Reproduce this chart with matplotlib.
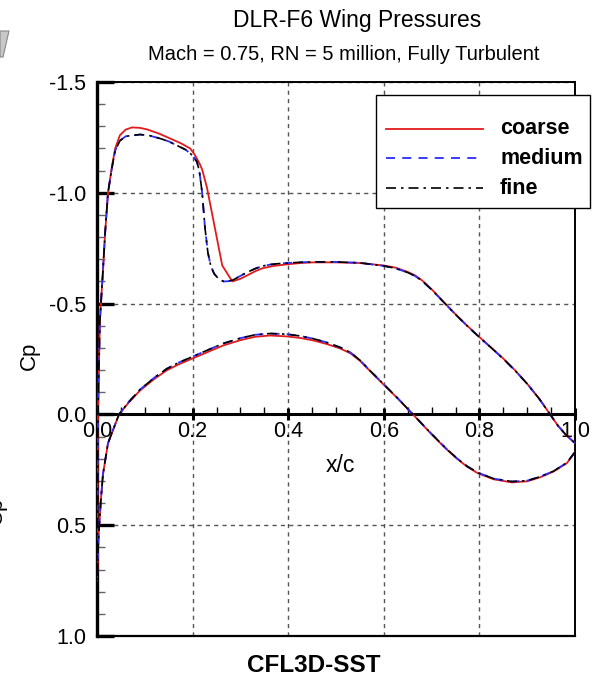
import numpy as np
import matplotlib
matplotlib.use("Agg")
import matplotlib.pyplot as plt
from matplotlib.patches import Polygon, Rectangle
from matplotlib.lines import Line2D

plt.rcParams["font.family"] = ["Liberation Sans", "DejaVu Sans"]

# ----------------------------------------------------------------------------
# Surface pressure data (x/c, Cp)
# ----------------------------------------------------------------------------
coarse_x_up = [0.0, 0.001, 0.002, 0.006, 0.0125, 0.017, 0.023, 0.031, 0.038, 0.048,
               0.06, 0.073, 0.09, 0.105, 0.13, 0.153, 0.175, 0.195, 0.205, 0.215,
               0.22, 0.23, 0.262, 0.283, 0.3, 0.314, 0.33, 0.347, 0.37, 0.397,
               0.425, 0.452, 0.5, 0.55, 0.6, 0.625, 0.65, 0.665, 0.68, 0.7,
               0.725, 0.75, 0.775, 0.8, 0.825, 0.85, 0.875, 0.9, 0.925, 0.948,
               0.964, 0.98, 1.0]
coarse_cp_up = [0.75, 0.4, 0.0, -0.42, -0.65, -0.82, -1.0, -1.115, -1.2, -1.26,
                -1.285, -1.295, -1.293, -1.286, -1.267, -1.245, -1.224, -1.2, -1.17, -1.13,
                -1.105, -1.024, -0.672, -0.60, -0.612, -0.627, -0.645, -0.66, -0.67, -0.677,
                -0.683, -0.686, -0.686, -0.683, -0.672, -0.662, -0.643, -0.628, -0.605, -0.565,
                -0.508, -0.452, -0.399, -0.349, -0.301, -0.252, -0.198, -0.138, -0.071, 0.0,
                0.05, 0.09, 0.13]
coarse_x_lo = [0.0, 0.0006, 0.0035, 0.008, 0.0125, 0.023, 0.046, 0.065, 0.09, 0.12,
               0.146, 0.17, 0.195, 0.23, 0.264, 0.3, 0.33, 0.362, 0.397, 0.425,
               0.452, 0.48, 0.508, 0.53, 0.55, 0.571, 0.598, 0.63, 0.661, 0.7,
               0.73, 0.753, 0.775, 0.797, 0.83, 0.868, 0.9, 0.927, 0.955, 0.983,
               1.0]
coarse_cp_lo = [0.75, 0.70, 0.54, 0.39, 0.27, 0.13, 0.0, -0.05, -0.108, -0.16,
                -0.199, -0.225, -0.248, -0.28, -0.311, -0.335, -0.35, -0.356, -0.352, -0.345,
                -0.334, -0.318, -0.298, -0.276, -0.242, -0.196, -0.138, -0.07, 0.0, 0.09,
                0.155, 0.20, 0.237, 0.266, 0.293, 0.307, 0.302, 0.284, 0.258, 0.22,
                0.17]

medium_x_up = [0.0, 0.001, 0.002, 0.006, 0.0125, 0.017, 0.023, 0.031, 0.038, 0.048,
               0.06, 0.09, 0.11, 0.132, 0.15, 0.167, 0.185, 0.195, 0.203, 0.209,
               0.214, 0.22, 0.226, 0.232, 0.238, 0.245, 0.255, 0.265, 0.275, 0.285,
               0.3, 0.314, 0.33, 0.347, 0.365, 0.383, 0.42, 0.452, 0.5, 0.55,
               0.6, 0.625, 0.65, 0.665, 0.68, 0.7, 0.725, 0.75, 0.775, 0.8,
               0.825, 0.85, 0.875, 0.9, 0.925, 0.948, 0.964, 0.98, 1.0]
medium_cp_up = [0.75, 0.4, 0.0, -0.42, -0.65, -0.82, -1.0, -1.11, -1.19, -1.235,
                -1.255, -1.263, -1.258, -1.245, -1.232, -1.214, -1.195, -1.178, -1.16, -1.14,
                -1.10, -1.0, -0.84, -0.73, -0.67, -0.635, -0.610, -0.60, -0.601, -0.607,
                -0.625, -0.641, -0.657, -0.67, -0.677, -0.681, -0.686, -0.688, -0.688, -0.684,
                -0.670, -0.659, -0.640, -0.625, -0.603, -0.563, -0.507, -0.451, -0.398, -0.348,
                -0.300, -0.251, -0.197, -0.138, -0.071, 0.0, 0.05, 0.09, 0.13]
medium_x_lo = [0.0, 0.0006, 0.0035, 0.008, 0.0125, 0.023, 0.046, 0.065, 0.09, 0.12,
               0.146, 0.17, 0.195, 0.23, 0.264, 0.3, 0.33, 0.362, 0.397, 0.425,
               0.452, 0.48, 0.508, 0.53, 0.55, 0.571, 0.598, 0.63, 0.661, 0.7,
               0.73, 0.753, 0.775, 0.797, 0.83, 0.868, 0.9, 0.927, 0.955, 0.983,
               1.0]
medium_cp_lo = [0.75, 0.70, 0.54, 0.39, 0.27, 0.13, 0.0, -0.053, -0.112, -0.166,
                -0.206, -0.233, -0.256, -0.289, -0.32, -0.344, -0.359, -0.365, -0.362, -0.354,
                -0.342, -0.325, -0.303, -0.280, -0.245, -0.198, -0.140, -0.071, 0.0, 0.088,
                0.153, 0.198, 0.235, 0.263, 0.29, 0.303, 0.299, 0.281, 0.256, 0.218,
                0.17]

fine_x_up = [0.0, 0.001, 0.002, 0.006, 0.0125, 0.017, 0.023, 0.031, 0.038, 0.048,
             0.06, 0.09, 0.11, 0.132, 0.15, 0.167, 0.185, 0.195, 0.203, 0.209,
             0.214, 0.22, 0.226, 0.232, 0.238, 0.245, 0.255, 0.265, 0.275, 0.285,
             0.3, 0.314, 0.33, 0.347, 0.365, 0.383, 0.42, 0.452, 0.5, 0.55,
             0.6, 0.625, 0.65, 0.665, 0.68, 0.7, 0.725, 0.75, 0.775, 0.8,
             0.825, 0.85, 0.875, 0.9, 0.925, 0.948, 0.964, 0.98, 1.0]
fine_cp_up = [0.75, 0.4, 0.0, -0.42, -0.65, -0.82, -1.0, -1.11, -1.19, -1.235,
              -1.255, -1.263, -1.258, -1.245, -1.232, -1.214, -1.195, -1.178, -1.16, -1.14,
              -1.10, -1.0, -0.84, -0.73, -0.67, -0.635, -0.610, -0.60, -0.601, -0.607,
              -0.625, -0.641, -0.657, -0.67, -0.677, -0.681, -0.686, -0.688, -0.688, -0.684,
              -0.670, -0.659, -0.640, -0.625, -0.603, -0.563, -0.507, -0.451, -0.398, -0.348,
              -0.300, -0.251, -0.197, -0.138, -0.071, 0.0, 0.05, 0.09, 0.13]
fine_x_lo = [0.0, 0.0006, 0.0035, 0.008, 0.0125, 0.023, 0.046, 0.065, 0.09, 0.12,
             0.146, 0.17, 0.195, 0.23, 0.264, 0.3, 0.33, 0.362, 0.397, 0.425,
             0.452, 0.48, 0.508, 0.53, 0.55, 0.571, 0.598, 0.63, 0.661, 0.7,
             0.73, 0.753, 0.775, 0.797, 0.83, 0.868, 0.9, 0.927, 0.955, 0.983,
             1.0]
fine_cp_lo = [0.75, 0.70, 0.54, 0.39, 0.27, 0.13, 0.0, -0.053, -0.112, -0.166,
              -0.206, -0.233, -0.256, -0.289, -0.32, -0.344, -0.359, -0.365, -0.362, -0.354,
              -0.342, -0.325, -0.303, -0.280, -0.245, -0.198, -0.140, -0.071, 0.0, 0.088,
              0.153, 0.198, 0.235, 0.263, 0.29, 0.303, 0.299, 0.281, 0.256, 0.218,
              0.17]

grid_names = ["coarse", "medium", "fine"]
x_ticks = [0.0, 0.2, 0.4, 0.6, 0.8, 1.0]
y_ticks = [-1.5, -1.0, -0.5, 0.0, 0.5, 1.0]

W, H = 598, 692


def fx(px):
    return px / W


def fy(py):
    return 1.0 - py / H


def loop(x_up, cp_up, x_lo, cp_lo):
    """Lower surface TE -> LE, then upper LE -> TE, as one continuous curve."""
    xs = list(reversed(x_lo)) + list(x_up)
    cs = list(reversed(cp_lo)) + list(cp_up)
    return np.array(xs), np.array(cs)


fig = plt.figure(figsize=(W / 100, H / 100), dpi=100)
ax = fig.add_axes([fx(97), fy(636), fx(575) - fx(97), fy(82) - fy(636)])

styles = [
    dict(color="#e31a1c", lw=1.3, ls="-"),
    dict(color="#2b2bff", lw=1.3, ls=(0, (5, 4))),
    dict(color="black", lw=1.2, ls=(0, (6, 3, 1.5, 3))),
]
series = [
    (coarse_x_up, coarse_cp_up, coarse_x_lo, coarse_cp_lo),
    (medium_x_up, medium_cp_up, medium_x_lo, medium_cp_lo),
    (fine_x_up, fine_cp_up, fine_x_lo, fine_cp_lo),
]
for name, st, data in zip(grid_names, styles, series):
    xs, cs = loop(*data)
    ax.plot(xs, cs, label=name, zorder=3, **st)

ax.set_xlim(0, 1.0)
ax.set_ylim(1.0, -1.5)

# x axis sits on Cp = 0, frame line drawn separately at Cp = 1
ax.spines["bottom"].set_position(("data", 0))
ax.spines["bottom"].set_linewidth(2.2)
ax.spines["left"].set_linewidth(2.4)
ax.spines["top"].set_linewidth(1.4)
ax.spines["right"].set_linewidth(1.4)
ax.plot([0, 1], [0, 0], transform=ax.transAxes, color="black", lw=1.6,
        clip_on=False, zorder=5)

ax.set_xticks(x_ticks)
ax.set_xticks(np.arange(0, 1.0001, 0.05), minor=True)
ax.set_yticks(y_ticks)
ax.set_yticks(np.arange(-1.5, 1.0001, 0.1), minor=True)
ax.set_xticklabels([f"{v:.1f}" for v in x_ticks])
ax.set_yticklabels([f"{v:.1f}" for v in y_ticks])

ax.tick_params(axis="x", which="major", direction="inout", length=8, width=2.2,
               labelsize=15.5, pad=1)
ax.tick_params(axis="x", which="minor", direction="in", length=5, width=1.0)
ax.tick_params(axis="y", which="major", direction="in", length=12, width=2.4,
               labelsize=15.5, pad=8)
ax.tick_params(axis="y", which="minor", direction="in", length=6, width=1.0,
               color="#666666")

ax.grid(True, which="major", color="#555555", lw=1.0, ls=(0, (3, 3)), zorder=1)
ax.set_axisbelow(True)

# labels
fig.text(fx(29), fy(356), "Cp", rotation=90, ha="center", va="center", fontsize=16)
fig.text(fx(340), fy(466), "x/c", ha="center", va="center", fontsize=16.5)
fig.text(fx(314), fy(666), "CFL3D-SST", ha="center", va="center", fontsize=17.5,
         fontweight="bold")
fig.text(fx(357), fy(20), "DLR-F6 Wing Pressures", ha="center", va="center",
         fontsize=16.5)
fig.text(fx(344), fy(55), "Mach = 0.75, RN = 5 million, Fully Turbulent",
         ha="center", va="center", fontsize=14.5)

# legend box, laid out in figure pixels
fig.add_artist(Rectangle((fx(376), fy(208)), fx(590) - fx(376), fy(95) - fy(208),
                         transform=fig.transFigure, facecolor="white",
                         edgecolor="black", lw=1.0, zorder=4))
for name, st, py in zip(grid_names, styles, [129, 158, 188]):
    fig.add_artist(Line2D([fx(386), fx(483)], [fy(py), fy(py)],
                          transform=fig.transFigure, zorder=5, **st))
    fig.text(fx(500), fy(py), name, ha="left", va="center", fontsize=15.5,
             fontweight="bold", zorder=5)

# pieces of the neighbouring panels cut off at the left edge
fig.patches.append(Polygon([(fx(0), fy(31)), (fx(9), fy(31)), (fx(3), fy(57)),
                            (fx(0), fy(57))], closed=True, transform=fig.transFigure,
                           facecolor="#c8c8c8", edgecolor="#888888", lw=0.8))
fig.text(fx(-4), fy(511), "Cp", rotation=90, ha="center", va="center", fontsize=16)

fig.savefig("out.png", dpi=100)
